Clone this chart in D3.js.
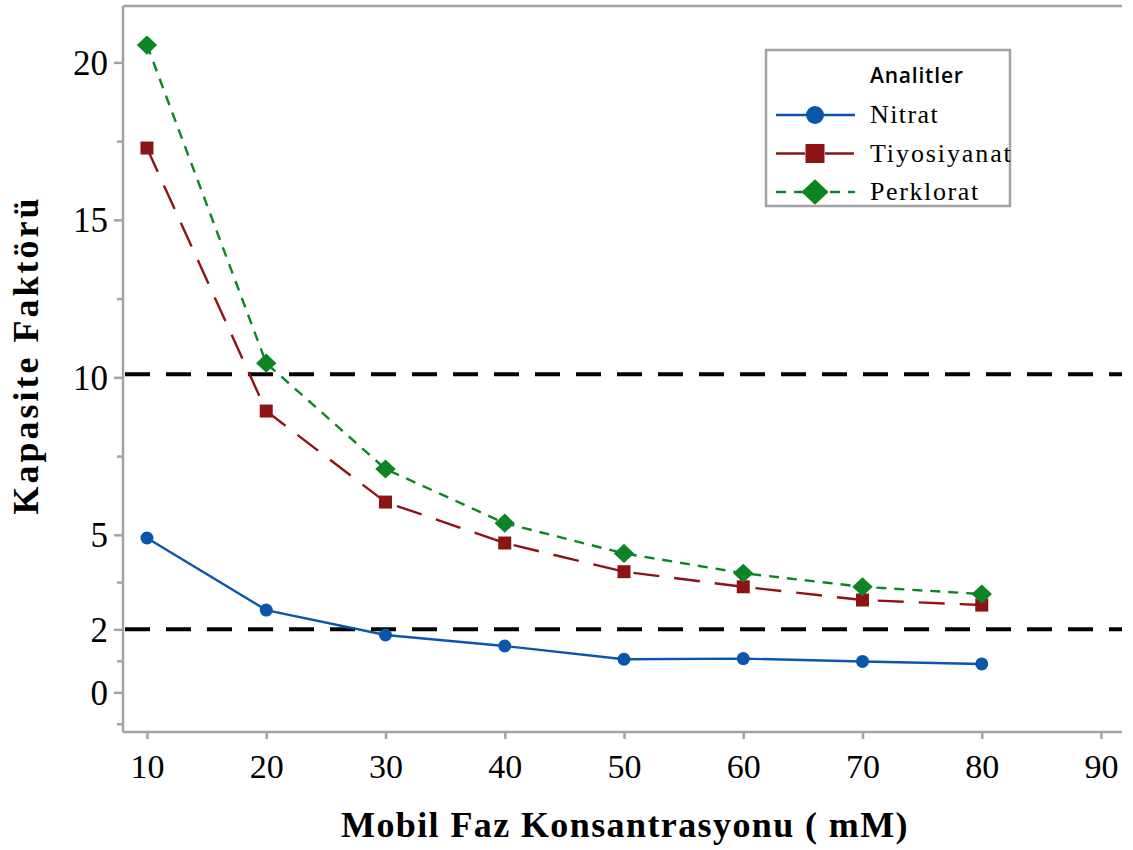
<!DOCTYPE html>
<html>
<head>
<meta charset="utf-8">
<script src="https://cdn.jsdelivr.net/npm/d3@7"></script>
<style>
  html, body { margin: 0; padding: 0; background: #fff; }
  svg { display: block; }
</style>
</head>
<body>
<svg id="chart" width="1133" height="850"></svg>
<script>
// Mobile phase concentration (mM)
const concentrations = [10, 20, 30, 40, 50, 60, 70, 80];

// Capacity factor for each analyte
const nitrat      = [4.90, 2.61, 1.82, 1.47, 1.05, 1.07, 0.98, 0.90];
const tiyosiyanat = [17.28, 8.93, 6.04, 4.74, 3.83, 3.35, 2.93, 2.77];
const perklorat   = [20.55, 10.45, 7.09, 5.37, 4.41, 3.78, 3.35, 3.12];

const seriesNames = ["Nitrat", "Tiyosiyanat", "Perklorat"];

// Axis ticks
const xTicks = [10, 20, 30, 40, 50, 60, 70, 80, 90];
const yTicks = [0, 2, 5, 10, 15, 20];
const yMinorTicks = [-1, 1, 3.5, 7.5, 12.5, 17.5];

// Horizontal reference levels
const refLevels = [10.1, 2];

const svg = d3.select("#chart");

const plotLeft = 123, plotRight = 1122, plotTop = 6, plotBottom = 732;

const x = d3.scaleLinear().domain([7.99, 91.76]).range([plotLeft, plotRight]);
const y = d3.scaleLinear().domain([-1.26, 21.79]).range([plotBottom, plotTop]);

const axisColor = "#a3a3a3";
const serif = "'Liberation Serif', 'Times New Roman', serif";

const styles = [
  { name: seriesNames[0], values: nitrat,      color: "#0a56a8", dash: null,    width: 2.4, shape: "circle",  spacing: 1.4 },
  { name: seriesNames[1], values: tiyosiyanat, color: "#8c1414", dash: "26,15", width: 2.4, shape: "square",  spacing: 1.9 },
  { name: seriesNames[2], values: perklorat,   color: "#0b8526", dash: "10,8",  width: 2.4, shape: "diamond", spacing: 1.6 }
];

// Frame line across the top
svg.append("line")
  .attr("x1", plotLeft).attr("x2", plotRight)
  .attr("y1", plotTop).attr("y2", plotTop)
  .attr("stroke", axisColor).attr("stroke-width", 2.5);

// X axis
const xAxis = svg.append("g")
  .attr("transform", `translate(0,${plotBottom})`)
  .call(d3.axisBottom(x).tickValues(xTicks).tickSize(7).tickPadding(10).tickSizeOuter(0));
xAxis.select(".domain").attr("stroke", axisColor).attr("stroke-width", 2.5)
  .attr("d", `M${plotLeft},0H${plotRight}`);
xAxis.selectAll(".tick line").attr("stroke", axisColor).attr("stroke-width", 2.5);
xAxis.selectAll(".tick text")
  .attr("font-family", serif).attr("font-size", 34).attr("fill", "#000")
  .attr("dy", null).attr("y", 46);

// Y axis, major ticks
const yAxis = svg.append("g")
  .attr("transform", `translate(${plotLeft},0)`)
  .call(d3.axisLeft(y).tickValues(yTicks).tickSize(9).tickPadding(6).tickSizeOuter(0));
yAxis.select(".domain").attr("stroke", axisColor).attr("stroke-width", 2.5)
  .attr("d", `M0,${plotTop}V${plotBottom}`);
yAxis.selectAll(".tick line").attr("stroke", axisColor).attr("stroke-width", 2.5);
yAxis.selectAll(".tick text")
  .attr("font-family", serif).attr("font-size", 35).attr("fill", "#000")
  .attr("dy", "0.34em");

// Y axis, minor ticks
svg.append("g")
  .attr("transform", `translate(${plotLeft},0)`)
  .call(d3.axisLeft(y).tickValues(yMinorTicks).tickSize(6).tickFormat(""))
  .call(g => g.select(".domain").remove())
  .selectAll(".tick line").attr("stroke", axisColor).attr("stroke-width", 2.5);

// Reference lines
svg.append("g").selectAll("line")
  .data(refLevels).join("line")
  .attr("x1", plotLeft + 2).attr("x2", plotRight)
  .attr("y1", d => y(d)).attr("y2", d => y(d))
  .attr("stroke", "#000").attr("stroke-width", 4)
  .attr("stroke-dasharray", "25,16");

// Series lines
const line = d3.line()
  .x((d, i) => x(concentrations[i]))
  .y(d => y(d));

svg.append("g").selectAll("path")
  .data(styles).join("path")
  .attr("d", s => line(s.values))
  .attr("fill", "none")
  .attr("stroke", s => s.color)
  .attr("stroke-width", s => s.width)
  .attr("stroke-dasharray", s => s.dash);

// Marker shapes
function marker(sel, shape, size, color) {
  if (shape === "circle") {
    sel.append("circle").attr("r", size / 2).attr("fill", color);
  } else if (shape === "square") {
    sel.append("rect")
      .attr("x", -size / 2).attr("y", -size / 2)
      .attr("width", size).attr("height", size).attr("fill", color);
  } else {
    const h = size * 0.8, w = size * 0.85;
    sel.append("path")
      .attr("d", `M0,${-h}L${w},0L0,${h}L${-w},0Z`).attr("fill", color);
  }
}

const markerSize = { circle: 13, square: 13, diamond: 12 };

styles.forEach(s => {
  const g = svg.append("g");
  s.values.forEach((v, i) => {
    const m = g.append("g").attr("transform", `translate(${x(concentrations[i])},${y(v)})`);
    marker(m, s.shape, markerSize[s.shape], s.color);
  });
});

// Legend
const legend = svg.append("g");
legend.append("rect")
  .attr("x", 766).attr("y", 50).attr("width", 244).attr("height", 156)
  .attr("fill", "#fff").attr("stroke", axisColor).attr("stroke-width", 2.5);
legend.append("text")
  .attr("x", 870).attr("y", 83)
  .attr("font-family", "'Open Sans', 'Noto Sans', sans-serif")
  .attr("font-weight", 600).attr("font-size", 21).attr("letter-spacing", 0.8)
  .attr("fill", "#000").text("Analitler");

const legendSize = { circle: 18, square: 19, diamond: 16 };
const legendDash = { circle: null, square: "29,20", diamond: "10,8" };
styles.forEach((s, i) => {
  const cy = 115 + i * 38.5;
  const row = legend.append("g");
  row.append("line")
    .attr("x1", 776).attr("x2", 855).attr("y1", cy).attr("y2", cy)
    .attr("stroke", s.color).attr("stroke-width", 2.6)
    .attr("stroke-dasharray", legendDash[s.shape]);
  marker(row.append("g").attr("transform", `translate(815,${cy})`), s.shape, legendSize[s.shape], s.color);
  row.append("text")
    .attr("x", 870).attr("y", cy + 8)
    .attr("font-family", serif).attr("font-size", 26)
    .attr("letter-spacing", s.spacing).attr("fill", "#000")
    .text(s.name);
});

// Axis titles
svg.append("text")
  .attr("x", 625).attr("y", 837)
  .attr("text-anchor", "middle")
  .attr("font-family", serif).attr("font-weight", "bold")
  .attr("font-size", 36).attr("letter-spacing", 1.4).attr("fill", "#000")
  .text("Mobil Faz Konsantrasyonu ( mM)");

svg.append("text")
  .attr("transform", "translate(38,355) rotate(-90)")
  .attr("text-anchor", "middle")
  .attr("font-family", serif).attr("font-weight", "bold")
  .attr("font-size", 36).attr("letter-spacing", 3).attr("fill", "#000")
  .text("Kapasite Faktörü");
</script>
</body>
</html>
